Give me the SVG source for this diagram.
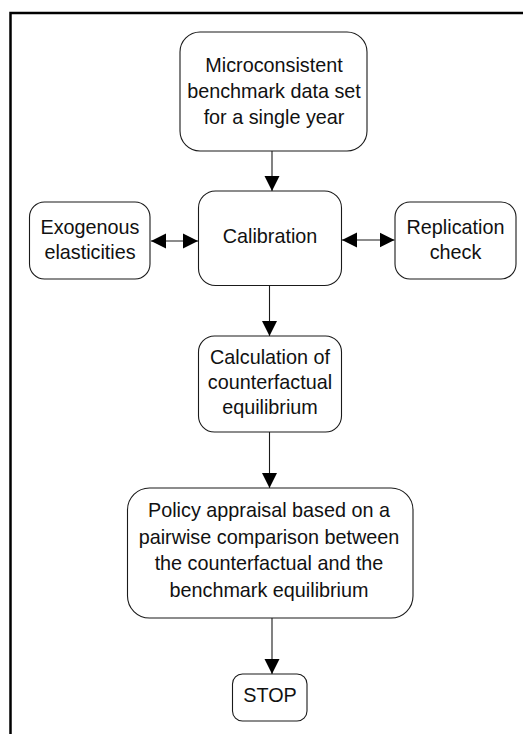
<svg xmlns="http://www.w3.org/2000/svg" width="523" height="734" viewBox="0 0 523 734">
<style>
.box{fill:#fff;stroke:#1a1a1a;stroke-width:1.1}
.t{font-family:"Liberation Sans",Arial,sans-serif;font-size:19.8px;fill:#111;text-anchor:middle}
.c{stroke:#1a1a1a;stroke-width:1.1;fill:none}
</style>
<defs>
<marker id="ah" markerUnits="userSpaceOnUse" markerWidth="16" markerHeight="16" viewBox="0 0 16 16" refX="15" refY="8" orient="auto-start-reverse">
<path d="M0,0.5 L15,8 L0,15.5 Z" fill="#000"/>
</marker>
</defs>
<rect x="10.5" y="13" width="520" height="730" fill="none" stroke="#000" stroke-width="2.5"/>
<g id="connectors">
<line class="c" x1="272" y1="151" x2="272" y2="191" marker-end="url(#ah)"/>
<line class="c" x1="151" y1="241" x2="198" y2="241" marker-start="url(#ah)" marker-end="url(#ah)"/>
<line class="c" x1="342" y1="240" x2="394.5" y2="240" marker-start="url(#ah)" marker-end="url(#ah)"/>
<line class="c" x1="269.5" y1="286" x2="269.5" y2="336" marker-end="url(#ah)"/>
<line class="c" x1="269.5" y1="432" x2="269.5" y2="488" marker-end="url(#ah)"/>
<line class="c" x1="272" y1="618" x2="272" y2="674" marker-end="url(#ah)"/>
</g>
<g id="benchmark">
<rect class="box" x="180" y="32" width="187" height="119" rx="20"/>
<text class="t" x="274" y="71.5">Microconsistent</text>
<text class="t" x="274" y="97.5">benchmark data set</text>
<text class="t" x="274" y="123.5">for a single year</text>
</g>
<g id="calibration">
<rect class="box" x="198.5" y="191" width="143" height="94.5" rx="17"/>
<text class="t" x="270" y="243">Calibration</text>
</g>
<g id="exogenous">
<rect class="box" x="29.5" y="202" width="120.5" height="77" rx="15"/>
<text class="t" x="90" y="234">Exogenous</text>
<text class="t" x="90" y="258.5">elasticities</text>
</g>
<g id="replication">
<rect class="box" x="395" y="202" width="121" height="77" rx="15"/>
<text class="t" x="455.5" y="234">Replication</text>
<text class="t" x="455.5" y="258.5">check</text>
</g>
<g id="calculation">
<rect class="box" x="198.5" y="336" width="143" height="96" rx="16"/>
<text class="t" x="270" y="364">Calculation of</text>
<text class="t" x="270" y="389">counterfactual</text>
<text class="t" x="270" y="414">equilibrium</text>
</g>
<g id="policy">
<rect class="box" x="127.5" y="488" width="285.5" height="130" rx="22"/>
<text class="t" x="269" y="517">Policy appraisal based on a</text>
<text class="t" x="269" y="543.5">pairwise comparison between</text>
<text class="t" x="269" y="570">the counterfactual and the</text>
<text class="t" x="269" y="596.5">benchmark equilibrium</text>
</g>
<g id="stop">
<rect class="box" x="232.5" y="674" width="74.5" height="47" rx="10"/>
<text class="t" x="270" y="702">STOP</text>
</g>
</svg>
